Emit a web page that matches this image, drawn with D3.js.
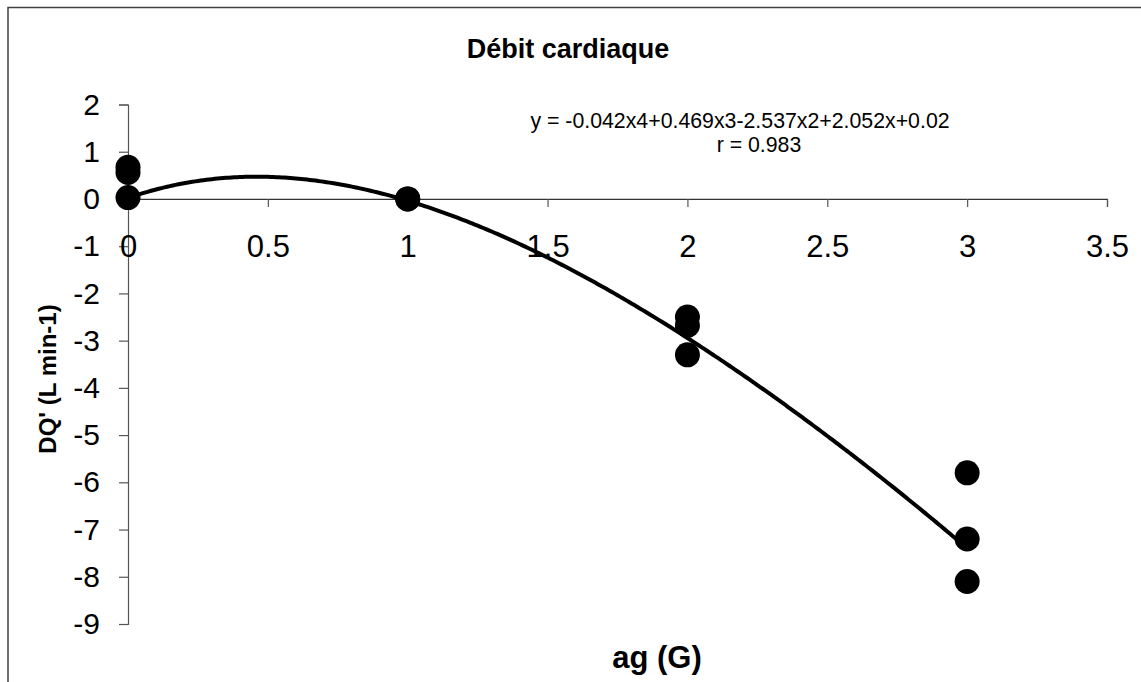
<!DOCTYPE html>
<html>
<head>
<meta charset="utf-8">
<script src="https://cdn.jsdelivr.net/npm/d3@7"></script>
<style>
  html, body { margin: 0; padding: 0; background: #fff; }
  svg { display: block; font-family: "Liberation Sans", Arial, sans-serif; }
</style>
</head>
<body>
<svg id="chart" width="1141" height="682"></svg>
<script>
// ---- data ----
const title = "Débit cardiaque";
const xLabel = "ag (G)";
const yLabel = "DQ' (L min-1)";
const equationText = "y = -0.042x4+0.469x3-2.537x2+2.052x+0.02";
const rText = "r = 0.983";
const xTicks = [0, 0.5, 1, 1.5, 2, 2.5, 3, 3.5];
const yTicks = [2, 1, 0, -1, -2, -3, -4, -5, -6, -7, -8, -9];
const pointX = [0, 0, 0, 1, 1, 2, 2, 2, 3, 3, 3];
const pointY = [0.67, 0.56, 0.03, 0, 0, -2.5, -2.68, -3.3, -5.8, -7.2, -8.1];
// polynomial trendline coefficients (x^4, x^3, x^2, x, 1), as printed on the chart
const trendCoefs = [-0.042, 0.469, -2.537, 2.052, 0.02];
const trendRange = [0, 3];

// ---- layout ----
const svg = d3.select("#chart");
const x = d3.scaleLinear().domain([0, 3.5]).range([128, 1107]);
const y = d3.scaleLinear().domain([-9, 2]).range([624, 104.5]);
const fmt = d => String(d).replace("\u2212", "-");

// outer frame
svg.append("rect")
  .attr("x", 8).attr("y", 7.5)
  .attr("width", 1200).attr("height", 800)
  .attr("fill", "none").attr("stroke", "#404040").attr("stroke-width", 1.5);

// y axis
const yAxis = svg.append("g")
  .attr("transform", `translate(${x(0)},0)`)
  .call(d3.axisLeft(y).tickValues(yTicks).tickSize(9).tickPadding(19).tickFormat(fmt));
yAxis.select(".domain").attr("stroke", "#555").attr("stroke-width", 1.2);
yAxis.selectAll(".tick line").attr("stroke", "#555").attr("stroke-width", 1.2);
yAxis.selectAll(".tick text")
  .attr("font-size", 30).attr("fill", "#000")
  .attr("font-family", "Liberation Sans, Arial, sans-serif");

// x axis at y = 0
const xAxis = svg.append("g")
  .attr("transform", `translate(0,${y(0)})`)
  .call(d3.axisBottom(x).tickValues(xTicks).tickSize(8).tickPadding(28).tickFormat(fmt));
xAxis.select(".domain").attr("stroke", "#333").attr("stroke-width", 1.2);
xAxis.selectAll(".tick line").attr("stroke", "#555").attr("stroke-width", 1.2);
xAxis.selectAll(".tick text")
  .attr("font-size", 31).attr("fill", "#000")
  .attr("font-family", "Liberation Sans, Arial, sans-serif");

// trendline
const poly = t => trendCoefs.reduce((acc, c) => acc * t + c, 0);
const samples = d3.range(0, 301).map(i => trendRange[0] + (trendRange[1] - trendRange[0]) * i / 300);
svg.append("path")
  .datum(samples)
  .attr("fill", "none").attr("stroke", "#000").attr("stroke-width", 4)
  .attr("d", d3.line().x(d => x(d)).y(d => y(poly(d))));

// points
svg.append("g").selectAll("circle")
  .data(pointX.map((v, i) => [v, pointY[i]]))
  .join("circle")
  .attr("cx", d => x(d[0])).attr("cy", d => y(d[1]))
  .attr("r", 12.5).attr("fill", "#000");

// title
svg.append("text")
  .attr("x", 568).attr("y", 58)
  .attr("text-anchor", "middle")
  .attr("font-size", 27).attr("font-weight", "bold")
  .text(title);

// equation
svg.append("text")
  .attr("x", 740).attr("y", 128)
  .attr("text-anchor", "middle").attr("font-size", 21.3)
  .text(equationText);
svg.append("text")
  .attr("x", 759).attr("y", 152)
  .attr("text-anchor", "middle").attr("font-size", 21.3)
  .text(rText);

// axis labels
svg.append("text")
  .attr("x", 657).attr("y", 668)
  .attr("text-anchor", "middle")
  .attr("font-size", 31).attr("font-weight", "bold")
  .text(xLabel);
svg.append("text")
  .attr("transform", "translate(56,379) rotate(-90)")
  .attr("text-anchor", "middle")
  .attr("font-size", 24).attr("font-weight", "bold")
  .text(yLabel);
</script>
</body>
</html>
